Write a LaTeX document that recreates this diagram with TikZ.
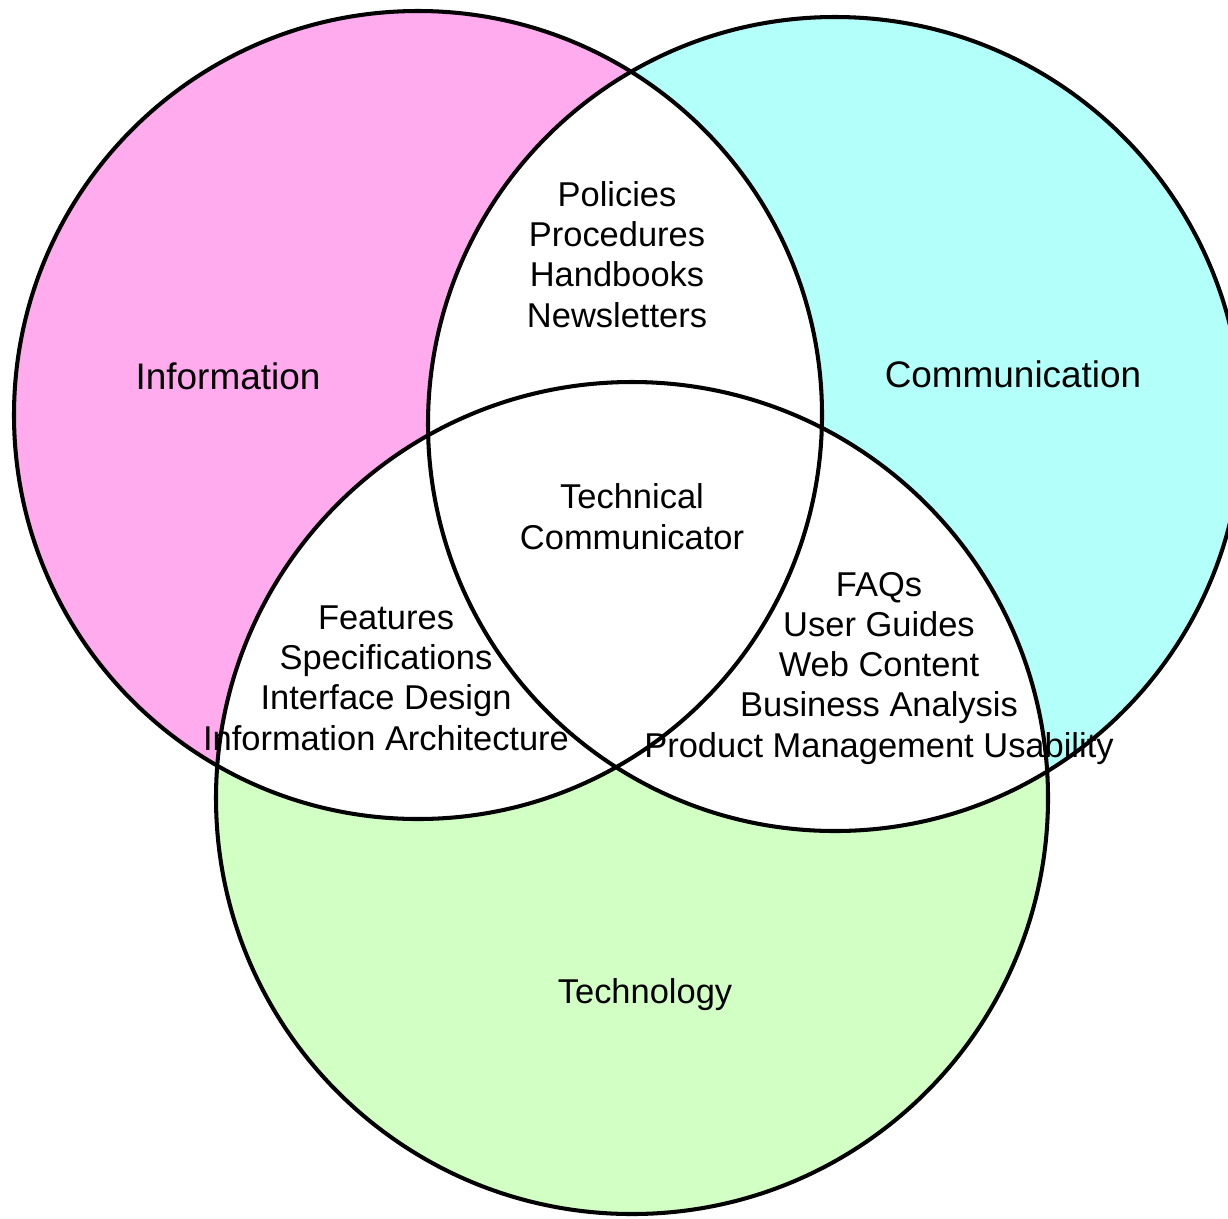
\documentclass[tikz,border=0pt]{standalone}
\usepackage{fontspec}
\setmainfont{Liberation Sans}
\definecolor{infopink}{RGB}{255,171,238}
\definecolor{commcyan}{RGB}{179,255,250}
\definecolor{techgreen}{RGB}{210,255,196}

\begin{document}
\begin{tikzpicture}[
    x=0.01cm, y=-0.01cm,
    ring/.style={draw, line width=1.15pt},
    every node/.style={align=center, inner sep=0pt, font=\fontsize{9.8}{11.4}\selectfont},
    setname/.style={font=\fontsize{10.5}{11.4}\selectfont}
]
    \fill[white] (0,0) rectangle (1228,1218);
    \useasboundingbox (0,0) rectangle (1228,1218);

    \coordinate (info) at (418,415);
    \coordinate (comm) at (835,424);
    \coordinate (tech) at (632,798);

    \fill[infopink] (info) circle[radius=404];
    \fill[commcyan] (comm) circle[radius=407];
    \fill[techgreen] (tech) circle[radius=416];

    % overlaps are left white
    \begin{scope}
        \clip (info) circle[radius=404];
        \fill[white] (comm) circle[radius=407];
        \fill[white] (tech) circle[radius=416];
    \end{scope}
    \begin{scope}
        \clip (comm) circle[radius=407];
        \fill[white] (tech) circle[radius=416];
    \end{scope}

    \draw[ring] (info) circle[radius=404];
    \draw[ring] (comm) circle[radius=407];
    \draw[ring] (tech) circle[radius=416];

    % base = baseline of the last line
    \node[setname, anchor=base] (information) at (228,389) {Information};
    \node[setname, anchor=base] (communication) at (1013,387) {Communication};
    \node[anchor=base] (technology) at (645,1003) {Technology};

    \node[anchor=base] (infocomm) at (617,327) {Policies\\Procedures\\Handbooks\\Newsletters};
    \node[anchor=base] (centre) at (632,549) {Technical\\Communicator};
    \node[anchor=base] (infotech) at (386,750) {Features\\Specifications\\Interface Design\\Information Architecture};
    \node[anchor=base] (commtech) at (879,757) {FAQs\\User Guides\\Web Content\\Business Analysis\\Product Management Usability};
\end{tikzpicture}
\end{document}
